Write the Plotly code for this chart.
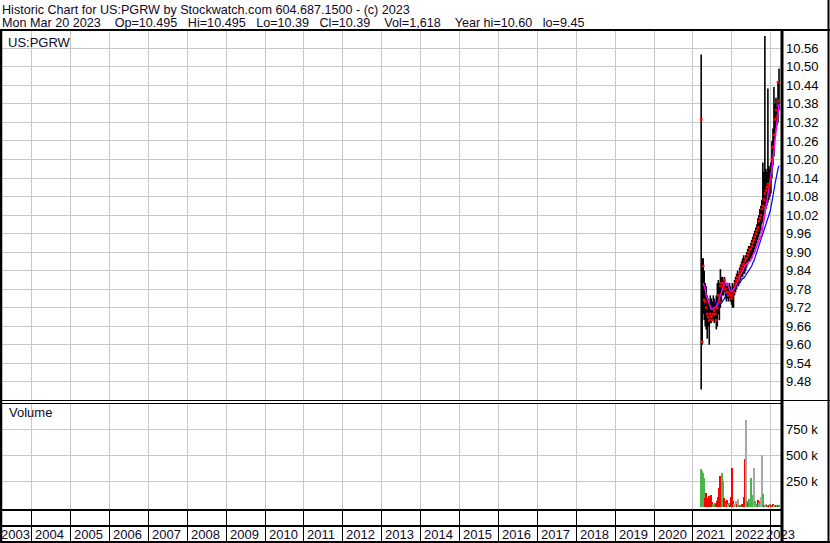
import plotly.graph_objects as go
import pandas as pd

# ---------------- data ----------------
start_date = "2021-03-19"
end_date = "2023-03-20"

high = [10.54, 9.88, 9.88, 9.84, 9.80, 9.79, 9.76, 9.75, 9.74, 9.76,
        9.75, 9.74, 9.76, 9.75, 9.74, 9.76, 9.80, 9.81, 9.80, 9.845,
        9.82, 9.82, 9.81, 9.82, 9.80, 9.79, 9.80, 9.79, 9.80, 9.79,
        9.78, 9.80, 9.79, 9.81, 9.82, 9.83, 9.84, 9.83, 9.85, 9.86,
        9.87, 9.88, 9.89, 9.88, 9.89, 9.90, 9.91, 9.92, 9.92, 9.93,
        9.94, 9.95, 9.96, 9.97, 9.98, 9.99, 10.01, 10.02, 10.04, 10.05,
        10.07, 10.19, 10.16, 10.60, 10.17, 10.16, 10.43, 10.18, 10.17, 10.19,
        10.26, 10.30, 10.435, 10.38, 10.40, 10.37, 10.45, 10.495]
low = [9.455, 9.60, 9.70, 9.68, 9.66, 9.65, 9.62, 9.66, 9.60, 9.67,
       9.67, 9.68, 9.68, 9.67, 9.68, 9.65, 9.66, 9.70, 9.68, 9.72,
       9.74, 9.76, 9.76, 9.77, 9.75, 9.74, 9.75, 9.74, 9.75, 9.74,
       9.73, 9.72, 9.72, 9.76, 9.77, 9.78, 9.79, 9.79, 9.80, 9.81,
       9.82, 9.82, 9.83, 9.83, 9.84, 9.85, 9.86, 9.87, 9.87, 9.88,
       9.88, 9.89, 9.90, 9.91, 9.92, 9.93, 9.94, 9.95, 9.96, 9.97,
       9.99, 10.00, 10.02, 10.05, 10.04, 10.05, 10.06, 10.07, 10.08, 10.09,
       10.14, 10.18, 10.21, 10.27, 10.30, 10.31, 10.32, 10.36]
close = [10.33, 9.61, 9.855, 9.745, 9.74, 9.72, 9.70, 9.69, 9.68, 9.70,
         9.69, 9.68, 9.70, 9.71, 9.70, 9.68, 9.72, 9.76, 9.74, 9.79,
         9.80, 9.80, 9.79, 9.81, 9.78, 9.77, 9.77, 9.76, 9.77, 9.76,
         9.75, 9.76, 9.77, 9.79, 9.80, 9.81, 9.82, 9.81, 9.83, 9.84,
         9.85, 9.86, 9.86, 9.87, 9.88, 9.88, 9.89, 9.90, 9.91, 9.91,
         9.92, 9.93, 9.94, 9.95, 9.96, 9.97, 9.98, 10.00, 10.01, 10.02,
         10.04, 10.05, 10.07, 10.09, 10.10, 10.11, 10.12, 10.11, 10.12, 10.14,
         10.20, 10.24, 10.28, 10.33, 10.36, 10.34, 10.45, 10.39]
ma_short = [None, None, 9.80, 9.79, 9.78, 9.76, 9.75, 9.74, 9.73, 9.72,
            9.715, 9.715, 9.715, 9.72, 9.72, 9.725, 9.73, 9.74, 9.75, 9.76,
            9.77, 9.78, 9.79, 9.80, 9.80, 9.80, 9.795, 9.79, 9.78, 9.775,
            9.775, 9.775, 9.78, 9.785, 9.79, 9.80, 9.805, 9.81, 9.82, 9.83,
            9.835, 9.84, 9.85, 9.855, 9.86, 9.862, 9.865, 9.867, 9.87, 9.875,
            9.88, 9.89, 9.895, 9.90, 9.91, 9.92, 9.93, 9.937, 9.945, 9.952,
            9.96, 9.98, 10.00, 10.02, 10.04, 10.06, 10.08, 10.10, 10.12, 10.14,
            10.17, 10.20, 10.23, 10.26, 10.30, 10.33, 10.36, 10.38]
ma_long = [None, None, None, None, None, None, None, None, None, None,
           None, None, 9.74, 9.74, 9.735, 9.735, 9.73, 9.73, 9.73, 9.735,
           9.735, 9.74, 9.745, 9.75, 9.755, 9.76, 9.765, 9.77, 9.77, 9.775,
           9.775, 9.78, 9.78, 9.785, 9.79, 9.79, 9.795, 9.80, 9.80, 9.805,
           9.81, 9.815, 9.815, 9.82, 9.825, 9.83, 9.835, 9.84, 9.845, 9.85,
           9.855, 9.865, 9.87, 9.88, 9.89, 9.90, 9.905, 9.915, 9.925, 9.935,
           9.945, 9.955, 9.965, 9.975, 9.985, 9.995, 10.005, 10.02, 10.03, 10.045,
           10.06, 10.08, 10.10, 10.12, 10.14, 10.16, 10.17, 10.18]
volume = [370000, 350000, 330000, 280000, 90000, 135000, 60000, 90000, 110000, 70000,
          120000, 50000, 30000, 20000, 40000, 25000, 60000, 100000, 180000, 300000,
          210000, 330000, 250000, 90000, 60000, 40000, 70000, 30000, 40000, 20000,
          100000, 380000, 60000, 30000, 20000, 60000, 30000, 80000, 20000, 10000,
          20000, 30000, 100000, 460000, 840000, 60000, 40000, 80000, 40000, 280000,
          80000, 120000, 380000, 60000, 20000, 30000, 70000, 40000, 60000, 100000,
          500000, 130000, 20000, 15000, 25000, 10000, 20000, 15000, 30000, 20000,
          10000, 25000, 15000, 20000, 10000, 15000, 20000, 10000]
vol_dir = ["u", "u", "u", "u", "d", "d", "d", "d", "d", "d",
           "d", "d", "u", "u", "u", "d", "d", "d", "d", "d",
           "d", "u", "u", "d", "d", "u", "d", "n", "u", "d",
           "d", "d", "d", "n", "u", "n", "d", "n", "u", "d",
           "u", "d", "d", "d", "n", "u", "d", "u", "u", "u",
           "u", "u", "n", "u", "n", "u", "d", "n", "u", "n",
           "n", "u", "d", "u", "n", "d", "u", "d", "u", "d",
           "u", "d", "n", "u", "d", "u", "d", "u"]

price_ticks = [9.48, 9.54, 9.60, 9.66, 9.72, 9.78, 9.84, 9.90, 9.96, 10.02,
               10.08, 10.14, 10.20, 10.26, 10.32, 10.38, 10.44, 10.50, 10.56]
vol_ticks = [250000, 500000, 750000]
vol_tick_text = ["250 k", "500 k", "750 k"]
years = list(range(2004, 2024))

header1 = "Historic Chart for US:PGRW by Stockwatch.com 604.687.1500 - (c) 2023"
header2_parts = ["Mon Mar 20 2023", "Op=10.495", "Hi=10.495", "Lo=10.39",
                 "Cl=10.39", "Vol=1,618", "Year hi=10.60", "lo=9.45"]
header2_gaps = [4, 3, 3, 3, 4, 4, 3]

# ---------------- figure ----------------
W, H = 830, 543
def px(x):
    return x / W
def py(y):
    return 1 - y / H

header2 = header2_parts[0]
for g, part in zip(header2_gaps, header2_parts[1:]):
    header2 += "\u00a0" * g + part

dates = pd.date_range(start_date, end_date, periods=len(high))

bx, by = [], []
for d, h, l in zip(dates, high, low):
    bx += [d, d, None]
    by += [l, h, None]

col_map = {"u": "#4cb44c", "d": "#ff0000", "n": "#a8a8a8"}
vcolors = [col_map[c] for c in vol_dir]

FONT = "Liberation Sans, Arial, sans-serif"

fig = go.Figure()
fig.add_trace(go.Scatter(x=bx, y=by, mode="lines", line=dict(color="black", width=1.6),
                         xaxis="x", yaxis="y", hoverinfo="skip"))
fig.add_trace(go.Scatter(x=dates, y=ma_long, mode="lines", line=dict(color="#0000ff", width=1.2),
                         xaxis="x", yaxis="y"))
fig.add_trace(go.Scatter(x=dates, y=ma_short, mode="lines", line=dict(color="#ff00ff", width=1.5),
                         xaxis="x", yaxis="y"))
fig.add_trace(go.Scatter(x=dates, y=close, mode="markers",
                         marker=dict(color="#ff0000", size=2.6, symbol="square", line=dict(width=0)),
                         xaxis="x", yaxis="y"))
fig.add_trace(go.Bar(x=dates, y=volume, marker=dict(color=vcolors, line=dict(width=0)),
                     width=12 * 86400000, xaxis="x2", yaxis="y2"))

grid_vals = [f"{y}-01-01" for y in years]
xcommon = dict(type="date", domain=[px(2), px(782)], range=["2003-03-28", "2023-04-17"],
               tickmode="array", tickvals=grid_vals, showticklabels=False, ticks="",
               showline=False, zeroline=False, showgrid=True, gridwidth=1)

fig.update_layout(
    width=W, height=H, margin=dict(l=0, r=0, t=0, b=0),
    paper_bgcolor="white", plot_bgcolor="white", showlegend=False,
    bargap=0,
    xaxis=dict(**xcommon, anchor="y", gridcolor="#c8c8c8"),
    xaxis2=dict(**xcommon, anchor="y2", matches="x", gridcolor="#c8c8c8"),
    xaxis3=dict(**xcommon, anchor="y3", matches="x", gridcolor="#000000"),
    yaxis=dict(domain=[py(400), py(31)], range=[9.4214, 10.616], side="right", anchor="x",
               tickmode="array", tickvals=price_ticks, ticktext=[f"{v:.2f}" for v in price_ticks],
               showgrid=True, gridcolor="#c8c8c8", gridwidth=1, zeroline=False, showline=False,
               ticks="", ticklabelstandoff=3, tickfont=dict(family=FONT, size=13, color="black")),
    yaxis2=dict(domain=[py(510), py(403)], range=[-29000, 1005800], side="right", anchor="x2",
                tickmode="array", tickvals=vol_ticks, ticktext=vol_tick_text,
                showgrid=True, gridcolor="#c8c8c8", gridwidth=1, zeroline=False, showline=False,
                ticks="", ticklabelstandoff=3, tickfont=dict(family=FONT, size=13, color="black")),
    yaxis3=dict(domain=[py(542), py(510)], range=[0, 1], anchor="x3", showgrid=False,
                showticklabels=False, zeroline=False, showline=False, ticks=""),
)

shapes = []
def hline(y, x0, x1, w):
    shapes.append(dict(type="line", xref="paper", yref="paper", x0=px(x0), x1=px(x1),
                       y0=py(y), y1=py(y), line=dict(color="black", width=w)))
def vline(x, y0, y1, w):
    shapes.append(dict(type="line", xref="paper", yref="paper", x0=px(x), x1=px(x),
                       y0=py(y0), y1=py(y1), line=dict(color="black", width=w)))

hline(30, 0, 830, 2)
hline(400.5, 0, 830, 1.2)
hline(403.5, 0, 782, 1.2)
hline(510, 0, 782, 2)
hline(526, 0, 782, 2)
hline(542, 0, 830, 2)
vline(1, 30, 543, 2.5)
vline(782, 30, 543, 3)
vline(828.5, 0, 543, 2)
fig.update_layout(shapes=shapes)

ann = []
def text(x, y, s, size=13):
    ann.append(dict(xref="paper", yref="paper", x=px(x), y=py(y), text=s, showarrow=False,
                    xanchor="left", yanchor="middle", font=dict(family=FONT, size=size, color="#100828")))

text(0, 10, header1, 12.6)
text(0, 23, header2, 12.6)
text(6, 42, "US:PGRW")
text(7, 413, "Volume")
text(-1, 534.5, "2003")
for y in years:
    shift = 1.5 if y < 2023 else -7
    ann.append(dict(xref="x3", yref="paper", x=f"{y}-01-01", y=py(534.5), text=str(y),
                    showarrow=False, xanchor="left", yanchor="middle", xshift=shift,
                    font=dict(family=FONT, size=13, color="#100828")))
fig.update_layout(annotations=ann)

fig.write_html("out.html", config={"displayModeBar": False},
               post_script="document.body.style.margin='0';document.body.style.padding='0';")
